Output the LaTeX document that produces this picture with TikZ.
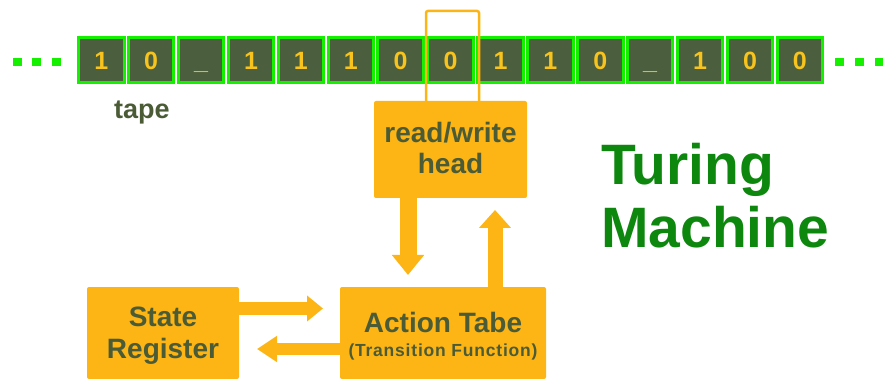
\documentclass[tikz,border=0pt]{standalone}
\usepackage{fontspec}
\setmainfont{Liberation Sans}
\usetikzlibrary{arrows.meta}
\definecolor{boxorange}{HTML}{FDB515}
\definecolor{txtgreen}{HTML}{4A5B36}
\definecolor{cellfill}{HTML}{4B5E3D}
\definecolor{cellborder}{HTML}{14F000}
\definecolor{digit}{HTML}{F7C31C}
\definecolor{titlegreen}{HTML}{0E870E}
\tikzset{
  cell/.style={draw=cellborder, line width=3pt, fill=cellfill, minimum width=45.5pt, minimum height=45pt,
    inner sep=0pt, text=digit, font=\bfseries\fontsize{25}{28}\selectfont, text height=18pt, text depth=0pt},
  obox/.style={fill=boxorange, draw=none, rounded corners=2pt, inner sep=0pt},
  boxtext/.style={text=txtgreen, align=center, inner sep=0pt, font=\bfseries\fontsize{28}{31}\selectfont},
  blockarrow/.style={draw=boxorange, line cap=butt},
  bracket/.style={draw=boxorange, line width=2.5pt, rounded corners=2pt},
  dot/.style={fill=cellborder},
  title/.style={text=titlegreen, anchor=base west, inner sep=0pt, font=\bfseries\fontsize{57}{63}\selectfont},
}
\begin{document}
\begin{tikzpicture}[x=1pt,y=-1pt]
\useasboundingbox (0,0) rectangle (883,379);
% dots
\foreach \x in {13,32,52} {\fill[dot] (\x,58) rectangle ++(8.5,8);}
\foreach \x in {835,855,875} {\fill[dot] (\x,58) rectangle ++(9,8);}
% tape
\foreach \d [count=\i] in {1,0,{\_},1,1,1,0,0,1,1,0,{\_},1,0,0}
  \node[cell] (c\i) at ({101.25+(\i-1)*49.9},60.5) {\d};
\node[text=txtgreen, anchor=base west, inner sep=0pt, font=\bfseries\fontsize{27}{30}\selectfont] (tape) at (114,119) {tape};
% boxes
\node[obox, minimum width=153pt, minimum height=97pt] (head) at (450.5,149.5) {};
\node[boxtext] (headtxt) at (450.5,148) {read/write\\head};
\node[obox, minimum width=206pt, minimum height=92pt] (action) at (443,333) {};
\node[boxtext] (actiontxt) at (443,336.5) {Action Tabe\\[-7pt]{\fontsize{17.5}{20}\selectfont\addfontfeature{LetterSpace=4.5}(Transition Function)}};
\node[obox, minimum width=152pt, minimum height=92pt] (state) at (163,333) {};
\node[boxtext, font=\bfseries\fontsize{28}{32}\selectfont] (statetxt) at (163,336) {State\\Register};
% head bracket
\coordinate (bl) at (426,101);
\coordinate (br) at (479,101);
\coordinate (bt) at (452,11);
\draw[bracket] (bl) |- (bt) -| (br);
% arrows
\coordinate (dtip) at (408,275);
\draw[blockarrow, line width=17pt, -{Triangle[length=20pt,width=31pt]}] (head.south -| dtip) -- (dtip);
\coordinate (utip) at (495,210);
\draw[blockarrow, line width=15pt, -{Triangle[length=18pt,width=31pt]}] (action.north -| utip) -- (utip);
\coordinate (rtip) at (323,308.5);
\draw[blockarrow, line width=13pt, -{Triangle[length=16pt,width=25pt]}] (state.east |- rtip) -- (rtip);
\coordinate (ltip) at (257,349);
\draw[blockarrow, line width=12pt, -{Triangle[length=20pt,width=25pt]}] (action.west |- ltip) -- (ltip);
% title
\node[title] (t1) at (601,185) {Turing};
\node[title] (t2) at (601,248) {Machine};
\end{tikzpicture}
\end{document}
